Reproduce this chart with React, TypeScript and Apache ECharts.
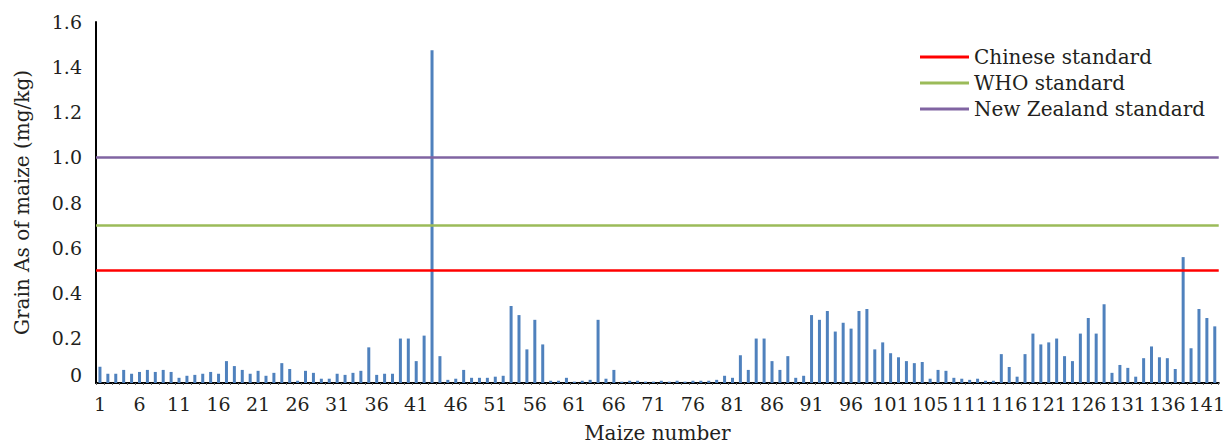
import React, { useEffect, useRef } from "react";
import * as echarts from "echarts";

const categories: string[] = [
  "1","2","3","4","5","6","7","8","9","10","11","12","13","14","15","16","17","18","19","20",
  "21","22","23","24","25","26","27","28","29","30","31","32","33","34","35","36","37","38","39","40",
  "41","42","43","44","45","46","47","48","49","50","51","52","53","54","55","56","57","58","59","60",
  "61","62","63","64","65","66","67","68","69","70","71","72","73","74","75","76","77","78","79","80",
  "81","82","83","84","85","86","87","88","89","90","91","92","93","94","95","96","97","98","99","100",
  "101","102","103","104","105","105","107","108","109","110","111","112","113","114","115","116","117","118","119","120",
  "121","122","123","124","125","126","127","128","129","130","131","132","133","134","135","136","137","138","139","140",
  "141","142",
];

const grainAs: number[] = [
  0.072, 0.041, 0.041, 0.058, 0.041, 0.049, 0.058, 0.049, 0.058, 0.049,
  0.023, 0.032, 0.036, 0.041, 0.049, 0.041, 0.097, 0.075, 0.058, 0.041,
  0.054, 0.032, 0.045, 0.088, 0.062, 0.010, 0.054, 0.045, 0.019, 0.019,
  0.041, 0.036, 0.045, 0.054, 0.158, 0.036, 0.041, 0.041, 0.197, 0.197,
  0.097, 0.210, 1.475, 0.119, 0.014, 0.019, 0.058, 0.023, 0.023, 0.023,
  0.028, 0.032, 0.341, 0.301, 0.149, 0.280, 0.171, 0.010, 0.010, 0.023,
  0.006, 0.010, 0.014, 0.280, 0.019, 0.058, 0.006, 0.010, 0.010, 0.006,
  0.006, 0.010, 0.006, 0.010, 0.006, 0.010, 0.010, 0.010, 0.014, 0.032,
  0.023, 0.123, 0.058, 0.197, 0.197, 0.097, 0.058, 0.119, 0.023, 0.032,
  0.301, 0.280, 0.319, 0.228, 0.267, 0.241, 0.319, 0.328, 0.149, 0.180,
  0.132, 0.114, 0.097, 0.088, 0.093, 0.019, 0.058, 0.054, 0.023, 0.019,
  0.014, 0.019, 0.010, 0.010, 0.128, 0.071, 0.028, 0.128, 0.219, 0.171,
  0.180, 0.197, 0.119, 0.097, 0.219, 0.288, 0.219, 0.349, 0.045, 0.080,
  0.067, 0.028, 0.110, 0.162, 0.114, 0.110, 0.062, 0.558, 0.154, 0.328,
  0.288, 0.251,
];

const standardNames: string[] = ["Chinese standard", "WHO standard", "New Zealand standard"];
const standardValues: number[] = [0.5, 0.7, 1.0];
const standardColors: string[] = ["#FF0000", "#9BBB59", "#8064A2"];

const yTicks = { min: 0, max: 1.6, interval: 0.2 };

const FONT = "DejaVu Serif";
const TEXT = "#231F20";

export default function App() {
  const ref = useRef<HTMLDivElement>(null);

  useEffect(() => {
    if (!ref.current) return;
    const chart = echarts.init(ref.current, undefined, { renderer: "svg" });

    const lineSeries = standardNames.map((name, i) => ({
      name,
      type: "line" as const,
      data: [] as number[],
      symbol: "none",
      itemStyle: { color: standardColors[i] },
      lineStyle: { color: standardColors[i], width: 2.5 },
      markLine: {
        silent: true,
        symbol: "none",
        label: { show: false },
        lineStyle: { color: standardColors[i], width: 2.5, type: "solid" },
        data: [{ yAxis: standardValues[i] }],
      },
    }));

    chart.setOption({
      animation: false,
      textStyle: { fontFamily: FONT, color: TEXT },
      grid: { left: 96, right: 8, top: 22, bottom: 60, containLabel: false },
      legend: {
        orient: "vertical",
        left: 915,
        top: 42,
        itemWidth: 49,
        itemHeight: 3,
        itemGap: 6,
        icon: "rect",
        data: standardNames,
        textStyle: { fontFamily: FONT, fontSize: 20, color: TEXT },
      },
      xAxis: {
        type: "category",
        data: categories,
        boundaryGap: true,
        name: "Maize number",
        nameLocation: "middle",
        nameGap: 40,
        nameTextStyle: { fontFamily: FONT, fontSize: 20, color: TEXT },
        axisLine: { lineStyle: { color: "#000", width: 2 } },
        axisTick: { show: true, interval: 0, length: 2, lineStyle: { color: "#666" } },
        axisLabel: { interval: 4, fontFamily: FONT, fontSize: 19, color: TEXT, margin: 11 },
        splitLine: { show: false },
      },
      yAxis: {
        type: "value",
        min: yTicks.min,
        max: yTicks.max,
        interval: yTicks.interval,
        name: "Grain As of maize (mg/kg)",
        nameLocation: "middle",
        nameRotate: 90,
        nameGap: 64,
        nameTextStyle: { fontFamily: FONT, fontSize: 20, color: TEXT },
        axisLine: { show: true, lineStyle: { color: "#000", width: 2 } },
        axisTick: { show: false },
        axisLabel: {
          fontFamily: FONT,
          fontSize: 19,
          color: TEXT,
          margin: 14,
          formatter: (v: number) => (v === 0 ? "{zero|0}" : v.toFixed(1)),
          rich: {
            zero: { fontFamily: FONT, fontSize: 19, color: TEXT, padding: [0, 0, 16, 0] },
          },
        },
        splitLine: { show: false },
      },
      series: [
        {
          name: "Grain As",
          type: "bar",
          data: grainAs,
          barWidth: 3,
          itemStyle: { color: "#4F81BD" },
        },
        ...lineSeries,
      ],
    });

    return () => chart.dispose();
  }, []);

  return (
    <div
      ref={ref}
      style={{ position: "fixed", left: 0, top: 0, width: 1228, height: 448, background: "#fff" }}
    />
  );
}
